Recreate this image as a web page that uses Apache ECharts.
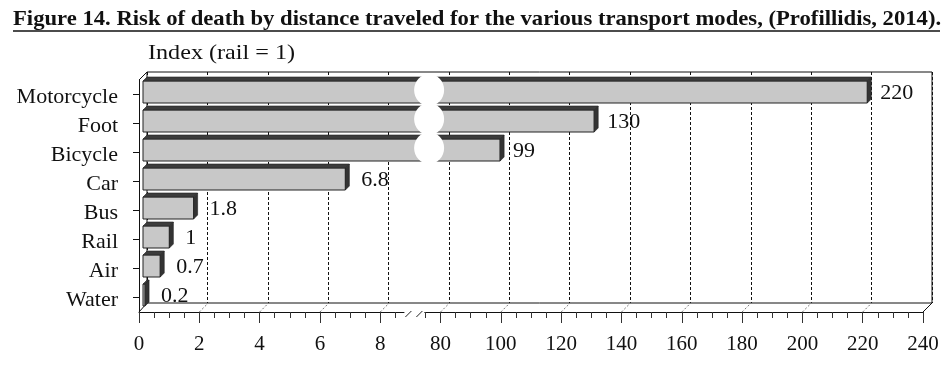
<!DOCTYPE html>
<html>
<head>
<meta charset="utf-8">
<script src="https://cdn.jsdelivr.net/npm/echarts@6/dist/echarts.min.js"></script>
<style>
html,body{margin:0;padding:0;background:#fff;}
#chart{width:951px;height:368px;}
</style>
</head>
<body>
<div id="chart"></div>
<script>
// ---- data ----
const titleText = 'Figure 14. Risk of death by distance traveled for the various transport modes, (Profillidis, 2014).';
const axisTitle = 'Index (rail = 1)';
const categories = ['Motorcycle', 'Foot', 'Bicycle', 'Car', 'Bus', 'Rail', 'Air', 'Water'];
const riskIndex = [220, 130, 99, 6.8, 1.8, 1, 0.7, 0.2];
const riskLabels = ['220', '130', '99', '6.8', '1.8', '1', '0.7', '0.2'];
const tickLabels = ['0', '2', '4', '6', '8', '80', '100', '120', '140', '160', '180', '200', '220', '240'];
const lowMax = 8;      // last value of the lower segment
const highMin = 80;    // first value of the upper segment

// broken-axis mapping: value -> position on a uniform 0..13 scale
function toPos(v) {
  return v <= lowMax ? v / 2 : 5 + (v - highMin) / 20;
}
const breakPos = 4.5;

const FONT = '"Liberation Serif", "Times New Roman", serif';
const chart = echarts.init(document.getElementById('chart'), null, {renderer: 'canvas'});

const barData = riskIndex.map((v, i) => [toPos(v), i, v]);
const tickData = tickLabels.map((t, i) => [i, 0]);

function renderBar(params, api) {
  const i = api.value(1);
  const v = api.value(2);
  const p0 = api.coord([0, i]);
  const p1 = api.coord([api.value(0), i]);
  const cy = p0[1];
  const x0 = p0[0], x1 = p1[0];
  const d = 4, top = cy - 11, bot = cy + 11;
  const children = [
    {type: 'rect', shape: {x: x0, y: top, width: Math.max(x1 - d - x0, 1), height: bot - top},
     style: {fill: '#c8c8c8', stroke: '#222', lineWidth: 1}},
    {type: 'polygon', shape: {points: [[x0, top], [x1 - d, top], [x1, top - d], [x0 + d, top - d]]},
     style: {fill: '#3c3c3c', stroke: '#222', lineWidth: 0.6}},
    {type: 'polygon', shape: {points: [[x1 - d, top], [x1, top - d], [x1, bot - d], [x1 - d, bot]]},
     style: {fill: '#333', stroke: '#222', lineWidth: 0.6}}
  ];
  if (v > lowMax) {
    const bx = api.coord([breakPos, i])[0] + 13;
    children.push({type: 'ellipse', shape: {cx: bx, cy: cy - 2, rx: 15, ry: 16},
      style: {fill: '#fff', stroke: null}});
  }
  children.push({type: 'text', x: x1 + (v > lowMax ? 9 : 12), y: cy + 1,
    style: {text: riskLabels[i], font: '22px ' + FONT, fill: '#111', verticalAlign: 'middle', align: 'left'}});
  return {type: 'group', children: children};
}

function renderFloor(params, api) {
  const k = api.value(0);
  const p = api.coord([k, 0]);
  const cs = params.coordSys;
  const yb = cs.y + cs.height;
  const x = p[0];
  const last = tickLabels.length - 1;
  const children = [];
  if (k === 0 || k === last) {
    children.push({type: 'line', shape: {x1: x, y1: yb, x2: x + (k === 0 ? 8 : 9), y2: yb - 9},
      style: {stroke: '#111', lineWidth: 1}});
    if (k === 0) {
      children.push({type: 'line', shape: {x1: x, y1: cs.y, x2: x + 8, y2: cs.y - 8},
        style: {stroke: '#111', lineWidth: 1}});
    }
  } else {
    children.push({type: 'line', shape: {x1: x, y1: yb, x2: x + 9, y2: yb - 9},
      style: {stroke: '#777', lineWidth: 1, lineDash: [2, 2]}});
  }
  if (k === 4) {
    // axis break marks between the two segments
    const bx = api.coord([breakPos, 0])[0] + 3;
    children.push({type: 'rect', shape: {x: bx - 9, y: yb - 1.5, width: 20, height: 12},
      style: {fill: '#fff'}});
    children.push({type: 'line', shape: {x1: bx - 8, y1: yb + 5, x2: bx - 2, y2: yb - 1},
      style: {stroke: '#222', lineWidth: 1}});
    children.push({type: 'line', shape: {x1: bx + 3, y1: yb + 5, x2: bx + 9, y2: yb - 1},
      style: {stroke: '#222', lineWidth: 1}});
  }
  return {type: 'group', children: children};
}

const option = {
  backgroundColor: '#fff',
  animation: false,
  grid: [
    {left: 139, right: 28, top: 80, bottom: 56},                       // front plane
    {left: 147, right: 19, top: 72, bottom: 65, show: true,
     borderColor: '#111', borderWidth: 1, backgroundColor: 'transparent'}, // back wall
    {left: 143, right: 19, top: 77.5, bottom: 58.5}                   // bars
  ],
  xAxis: [
    {gridIndex: 0, type: 'value', min: 0, max: 13, interval: 1,
     axisLine: {show: true, lineStyle: {color: '#111', width: 1}},
     axisTick: {show: true, length: 11, lineStyle: {color: '#333'}},
     minorTick: {show: true, splitNumber: 4, length: 6, lineStyle: {color: '#333'}},
     splitLine: {show: false},
     axisLabel: {margin: 22, fontFamily: FONT, fontSize: 21, color: '#111',
       formatter: v => tickLabels[Math.round(v)]}},
    {gridIndex: 1, type: 'value', min: 0, max: 13, interval: 1,
     axisLine: {show: false}, axisTick: {show: false}, axisLabel: {show: false},
     splitLine: {show: true, lineStyle: {color: '#111', type: [3, 2], width: 1}}},
    {gridIndex: 2, type: 'value', min: 0, max: 13, show: false}
  ],
  yAxis: [
    {gridIndex: 0, type: 'category', inverse: true, data: categories,
     axisLine: {show: true, lineStyle: {color: '#111'}},
     axisTick: {show: true, length: 6, alignWithLabel: true, lineStyle: {color: '#111'}},
     axisLabel: {margin: 21, fontFamily: FONT, fontSize: 22, color: '#111',
       verticalAlign: 'top', lineHeight: 5}},
    {gridIndex: 1, type: 'category', inverse: true, data: categories, show: false},
    {gridIndex: 2, type: 'category', inverse: true, data: categories, show: false}
  ],
  graphic: [
    {type: 'text', x: 13, y: 9, scaleX: 1.079,
     style: {text: titleText, font: 'bold 21px ' + FONT, fill: '#111'}},
    {type: 'line', shape: {x1: 13, y1: 31, x2: 940, y2: 31}, style: {stroke: '#111', lineWidth: 1.5}},
    {type: 'text', x: 148, y: 43, scaleX: 1.15,
     style: {text: axisTitle, font: '21px ' + FONT, fill: '#111'}}
  ],
  series: [
    {type: 'custom', xAxisIndex: 0, yAxisIndex: 0, data: tickData, renderItem: renderFloor,
     encode: {x: 0, y: 1}, z: 3, silent: true},
    {type: 'custom', xAxisIndex: 2, yAxisIndex: 2, data: barData, renderItem: renderBar,
     encode: {x: 0, y: 1}, z: 4, silent: true}
  ]
};
chart.setOption(option);
</script>
</body>
</html>
